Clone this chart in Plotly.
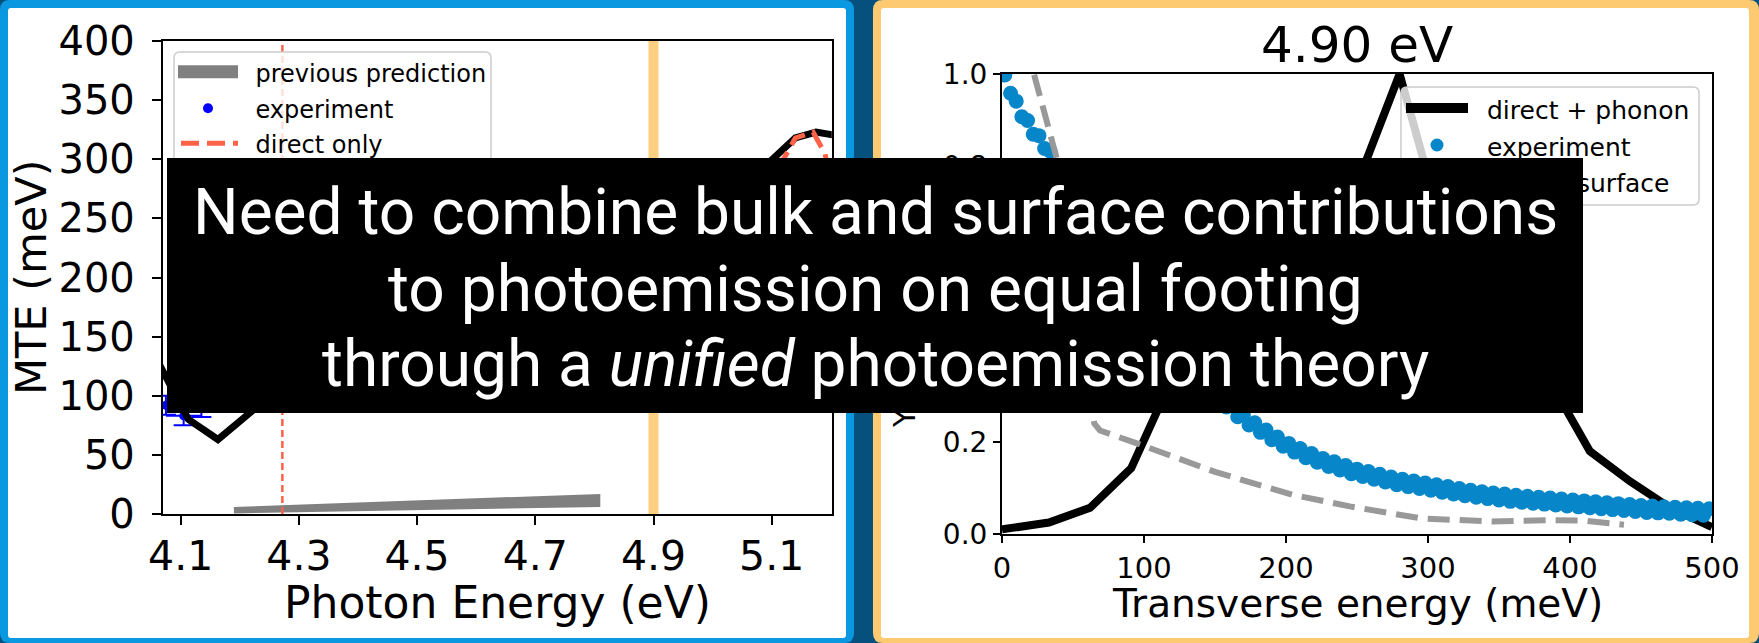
import plotly.graph_objects as go

W, H = 1759, 643


def px(x):
    return x / W


def py(y):
    return 1 - y / H


# ---------------- left panel: MTE vs photon energy ----------------
prev_x = [4.19, 4.81]
prev_lo = [0.5, 6.0]
prev_hi = [6.0, 17.0]

exp_l_x = [4.075, 4.105, 4.135]
exp_l_y = [92, 83, 90]
exp_l_err = [8, 8, 8]

phon_x = [4.06, 4.113, 4.163, 4.213, 4.30, 4.45, 4.60, 4.75, 4.90, 5.00, 5.08, 5.14, 5.175, 5.21]
phon_y = [130, 80, 63, 84, 120, 160, 190, 215, 240, 265, 290, 318, 323, 320]

direct_x = [4.30, 4.50, 4.70, 4.90, 5.05, 5.12, 5.14, 5.17, 5.19, 5.21]
direct_y = [120, 170, 210, 250, 285, 300, 318, 323, 305, 260]

threshold_eV = 4.272
chosen_eV = 4.9

# ---------------- right panel: transverse energy distribution ----------------
tr_phon_x = [0, 33, 62, 91, 120, 150, 180, 210, 240, 258, 280, 298, 330, 360, 390, 414, 442, 470, 500]
tr_phon_y = [0.01, 0.025, 0.057, 0.143, 0.34, 0.45, 0.52, 0.58, 0.68, 0.82, 1.0, 0.80, 0.58, 0.44, 0.31, 0.18, 0.115, 0.058, 0.015]

tr_exp_x = [2, 6, 10, 14, 18, 22, 26, 30, 34, 38, 42, 46, 50, 54, 58, 62, 66, 70, 74, 78,
            82, 86, 90, 94, 98, 102, 106, 110, 114, 118, 122, 126, 130, 134, 138, 142, 146, 150, 154, 158,
            162, 166, 170, 174, 178, 182, 186, 190, 194, 198, 202, 206, 210, 214, 218, 222, 226, 230, 234, 238,
            242, 246, 250, 254, 258, 262, 266, 270, 274, 278, 282, 286, 290, 294, 298, 302, 306, 310, 314, 318,
            322, 326, 330, 334, 338, 342, 346, 350, 354, 358, 362, 366, 370, 374, 378, 382, 386, 390, 394, 398,
            402, 406, 410, 414, 418, 422, 426, 430, 434, 438, 442, 446, 450, 454, 458, 462, 466, 470, 474, 478,
            482, 486, 490, 494, 498]
tr_exp_y = [0.998, 0.958, 0.941, 0.907, 0.899, 0.869, 0.866, 0.838, 0.832, 0.801,
            0.787, 0.749, 0.736, 0.699, 0.688, 0.652, 0.645, 0.611, 0.603, 0.571,
            0.566, 0.534, 0.530, 0.500, 0.497, 0.469, 0.467, 0.440, 0.439, 0.413,
            0.396, 0.369, 0.367, 0.342, 0.343, 0.318, 0.320, 0.296, 0.299, 0.276,
            0.279, 0.255, 0.259, 0.237, 0.242, 0.221, 0.226, 0.205, 0.211, 0.191,
            0.197, 0.178, 0.186, 0.166, 0.175, 0.156, 0.164, 0.147, 0.157, 0.139,
            0.149, 0.131, 0.141, 0.125, 0.136, 0.119, 0.130, 0.113, 0.124, 0.107,
            0.119, 0.103, 0.115, 0.099, 0.111, 0.095, 0.107, 0.091, 0.103, 0.087,
            0.099, 0.083, 0.095, 0.080, 0.092, 0.077, 0.089, 0.074, 0.087, 0.071,
            0.084, 0.069, 0.082, 0.067, 0.080, 0.065, 0.078, 0.063, 0.076, 0.061,
            0.074, 0.059, 0.072, 0.057, 0.070, 0.055, 0.068, 0.053, 0.066, 0.051,
            0.064, 0.049, 0.062, 0.047, 0.061, 0.046, 0.059, 0.045, 0.058, 0.043,
            0.057, 0.042, 0.056, 0.041, 0.055]

tr_surf_x = [5, 40, 65, 69, 95, 150, 205, 245, 295, 345, 385, 410, 438]
tr_surf_y = [1.20, 0.80, 0.24, 0.225, 0.197, 0.135, 0.085, 0.060, 0.034, 0.027, 0.030, 0.029, 0.020]

left_xticks = [4.1, 4.3, 4.5, 4.7, 4.9, 5.1]
left_yticks = [0, 50, 100, 150, 200, 250, 300, 350, 400]
right_xticks = [0, 100, 200, 300, 400, 500]
right_yticks = [0.0, 0.2, 0.4, 0.6, 0.8, 1.0]

TOMATO = "#ff6347"
BAND = "#fdd081"
EXP_BLUE = "#0787c9"
DJ = "DejaVu Sans"

fig = go.Figure()

# left panel traces
fig.add_trace(go.Scatter(x=[chosen_eV, chosen_eV], y=[0, 400], mode="lines",
                         line=dict(color=BAND, width=10), xaxis="x", yaxis="y", showlegend=False))
fig.add_trace(go.Scatter(x=prev_x + prev_x[::-1], y=prev_lo + prev_hi[::-1], mode="lines",
                         fill="toself", fillcolor="#808080", line=dict(width=0, color="#808080"),
                         xaxis="x", yaxis="y", showlegend=False))
fig.add_trace(go.Scatter(x=[threshold_eV, threshold_eV], y=[0, 400], mode="lines",
                         line=dict(color=TOMATO, width=2.5, dash="7px,4px"), xaxis="x", yaxis="y",
                         showlegend=False))
fig.add_trace(go.Scatter(x=exp_l_x, y=exp_l_y, mode="markers",
                         marker=dict(color="blue", size=9),
                         error_y=dict(type="data", array=exp_l_err, color="blue", thickness=2, width=10),
                         error_x=dict(type="constant", value=0.03, color="blue", thickness=2, width=0),
                         xaxis="x", yaxis="y", showlegend=False))
fig.add_trace(go.Scatter(x=phon_x, y=phon_y, mode="lines", line=dict(color="black", width=7),
                         xaxis="x", yaxis="y", showlegend=False))
fig.add_trace(go.Scatter(x=direct_x, y=direct_y, mode="lines",
                         line=dict(color=TOMATO, width=5, dash="18px,8px"),
                         xaxis="x", yaxis="y", showlegend=False))

# right panel traces
fig.add_trace(go.Scatter(x=tr_phon_x, y=tr_phon_y, mode="lines", line=dict(color="black", width=8),
                         xaxis="x2", yaxis="y2", showlegend=False))
fig.add_trace(go.Scatter(x=tr_exp_x, y=tr_exp_y, mode="markers",
                         marker=dict(color=EXP_BLUE, size=15, line=dict(width=0)),
                         xaxis="x2", yaxis="y2", showlegend=False))
fig.add_trace(go.Scatter(x=tr_surf_x, y=tr_surf_y, mode="lines",
                         line=dict(color="#999999", width=6, dash="22px,10px"),
                         xaxis="x2", yaxis="y2", showlegend=False))


def rrect(x0, y0, x1, y1, r):
    pts = [("M", x0 + r, y0), ("L", x1 - r, y0), ("Q", x1, y0, x1, y0 + r), ("L", x1, y1 - r),
           ("Q", x1, y1, x1 - r, y1), ("L", x0 + r, y1), ("Q", x0, y1, x0, y1 - r),
           ("L", x0, y0 + r), ("Q", x0, y0, x0 + r, y0)]
    out = []
    for p in pts:
        cmd, vals = p[0], p[1:]
        coords = []
        for i in range(0, len(vals), 2):
            coords.append(f"{px(vals[i]):.5f},{py(vals[i + 1]):.5f}")
        out.append(cmd + " ".join(coords))
    return " ".join(out) + " Z"


shapes = []
# panel frames
shapes.append(dict(type="path", xref="paper", yref="paper", path=rrect(0, 0, 854, 643, 10),
                   fillcolor="#0a98e0", line=dict(width=0), layer="below"))
shapes.append(dict(type="path", xref="paper", yref="paper", path=rrect(8, 8, 846, 638, 3),
                   fillcolor="white", line=dict(width=0), layer="below"))
shapes.append(dict(type="path", xref="paper", yref="paper", path=rrect(873, 0, 1759, 643, 10),
                   fillcolor="#fdca72", line=dict(width=0), layer="below"))
shapes.append(dict(type="path", xref="paper", yref="paper", path=rrect(881, 8, 1749, 638, 3),
                   fillcolor="white", line=dict(width=0), layer="below"))


def legend_text(x0, yc, text, size):
    return dict(type="rect", xref="paper", yref="paper", x0=px(x0), x1=px(x0 + 260),
                y0=py(yc + 15), y1=py(yc - 15), line=dict(width=0), fillcolor="rgba(0,0,0,0)",
                layer="above",
                label=dict(text=text, font=dict(family=DJ, size=size, color="black"),
                           textposition="middle left", padding=0))


def hline(x0, x1, yc, color, width, dash="solid"):
    return dict(type="line", xref="paper", yref="paper", x0=px(x0), x1=px(x1), y0=py(yc), y1=py(yc),
                line=dict(color=color, width=width, dash=dash), layer="above")


def dot(xc, yc, d, color):
    return dict(type="circle", xref="paper", yref="paper", x0=px(xc - d / 2), x1=px(xc + d / 2),
                y0=py(yc + d / 2), y1=py(yc - d / 2), fillcolor=color, line=dict(width=0), layer="above")


# left legend
shapes.append(dict(type="path", xref="paper", yref="paper", path=rrect(174, 52, 491, 230, 6),
                   fillcolor="rgba(255,255,255,0.8)", line=dict(color="#cccccc", width=1.5), layer="above"))
shapes.append(hline(178, 238, 71.7, "#808080", 13))
shapes.append(dot(208, 108.3, 10, "blue"))
shapes.append(hline(181, 238, 143.3, TOMATO, 5, "18px,8px"))
shapes.append(legend_text(252.5, 71.7, "previous prediction", 24))
shapes.append(legend_text(252.5, 108.3, "experiment", 24))
shapes.append(legend_text(252.5, 143.3, "direct only", 24))

# right legend
shapes.append(dict(type="path", xref="paper", yref="paper", path=rrect(1401, 87, 1699, 205, 6),
                   fillcolor="rgba(255,255,255,0.8)", line=dict(color="#cccccc", width=1.5), layer="above"))
shapes.append(hline(1406, 1468, 108, "black", 10))
shapes.append(dot(1437, 145, 13, EXP_BLUE))
shapes.append(hline(1406, 1468, 181.7, "#999999", 6, "22px,10px"))
shapes.append(legend_text(1484, 108, "direct + phonon", 25))
shapes.append(legend_text(1484, 145, "experiment", 25))
shapes.append(legend_text(1484, 181.7, "bulk + surface", 25))

# caption box
shapes.append(dict(type="rect", xref="paper", yref="paper", x0=px(167), x1=px(1583), y0=py(413), y1=py(158),
                   fillcolor="black", line=dict(width=0), layer="above"))


def ann(text, x, y, size, family=DJ, color="black", angle=0):
    return dict(text=text, x=px(x), y=py(y), xref="paper", yref="paper", showarrow=False,
                xanchor="center", yanchor="middle", textangle=angle,
                font=dict(family=family, size=size, color=color))


annotations = [
    ann("Photon Energy (eV)", 497, 602, 44),
    ann("MTE (meV)", 31, 277, 43, angle=-90),
    ann("Transverse energy (meV)", 1357, 603, 39),
    ann("Yield (arb. units)", 905, 304, 30, angle=-90),
    ann("4.90 eV", 1357, 45, 50),
    ann("Need to combine bulk and surface contributions", 875, 212, 64, "Roboto", "white"),
    ann("to photoemission on equal footing", 875, 289, 64, "Roboto", "white"),
    ann("through a <i>unified</i> photoemission theory", 875, 365, 64, "Roboto", "white"),
]

axis_common = dict(showgrid=False, zeroline=False, showline=True, linecolor="black", linewidth=2,
                   mirror=True, ticks="outside", tickcolor="black", tickwidth=2)

fig.update_layout(
    width=W, height=H, margin=dict(l=0, r=0, t=0, b=0, pad=0, autoexpand=False),
    paper_bgcolor="#06507e", plot_bgcolor="white", showlegend=False,
    xaxis=dict(domain=[px(162.8), px(831.8)], range=[4.0697, 5.2017], tickvals=left_xticks,
               ticktext=[f"{v:.1f}" for v in left_xticks], ticklen=9, ticklabelstandoff=-4,
               tickfont=dict(family=DJ, size=41, color="black"), anchor="y", **axis_common),
    yaxis=dict(domain=[py(514), py(41)], range=[0, 400], tickvals=left_yticks, ticklen=9,
               ticklabelstandoff=9,
               tickfont=dict(family=DJ, size=40, color="black"), anchor="x", **axis_common),
    xaxis2=dict(domain=[px(1002), px(1712)], range=[0, 500], tickvals=right_xticks, ticklen=7,
                tickfont=dict(family=DJ, size=29, color="black"), anchor="y2", **axis_common),
    yaxis2=dict(domain=[py(534), py(74)], range=[0, 1.0], tickvals=right_yticks,
                ticktext=[f"{v:.1f}" for v in right_yticks], ticklen=7,
                tickfont=dict(family=DJ, size=28, color="black"), anchor="x2", **axis_common),
    shapes=shapes, annotations=annotations,
)

fig.write_html("out.html")
